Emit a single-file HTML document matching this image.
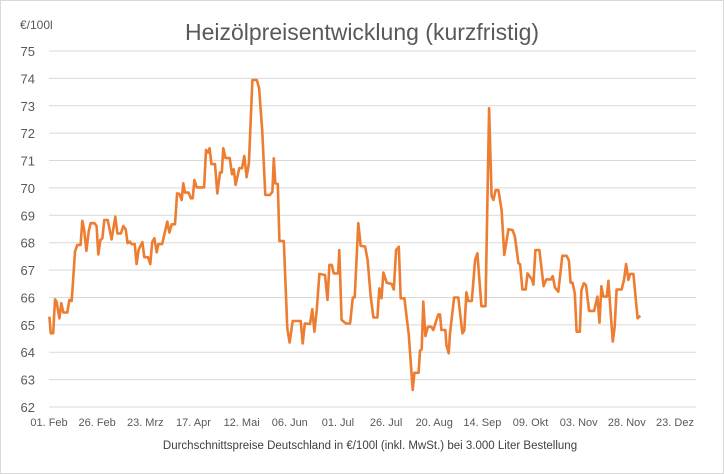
<!DOCTYPE html>
<html><head><meta charset="utf-8"><style>
html,body{margin:0;padding:0;background:#fff;}
svg{display:block;font-family:"Liberation Sans",sans-serif;}
</style></head><body>
<svg id="chart" width="724" height="474" viewBox="0 0 724 474" xmlns="http://www.w3.org/2000/svg">
<rect x="0.5" y="0.5" width="723" height="473" fill="#fff" stroke="#d9d9d9"/>
<text x="362" y="40" text-anchor="middle" font-size="23" fill="#595959">Heizölpreisentwicklung (kurzfristig)</text>
<text x="20" y="29" font-size="12" fill="#595959">€/100l</text>
<text x="370" y="449" text-anchor="middle" font-size="11.5" fill="#404040">Durchschnittspreise Deutschland in €/100l (inkl. MwSt.) bei 3.000 Liter Bestellung</text>
<g id="grid"></g><g id="yl"></g><g id="xl"></g><g id="series"></g>
</svg>
<script>
const yTicks=[62,63,64,65,66,67,68,69,70,71,72,73,74,75];
const xTickLabels=["01. Feb","26. Feb","23. Mrz","17. Apr","12. Mai","06. Jun","01. Jul","26. Jul","20. Aug","14. Sep","09. Okt","03. Nov","28. Nov","23. Dez"];
const xTickDays=[0,25,50,75,100,125,150,175,200,225,250,275,300,325];
const days=[0.2,0.9,2.2,3.1,3.9,5.4,6.4,7.4,9.5,10.6,11.8,13.5,14.7,16.4,17.3,18.3,19.4,20.6,21.6,23.7,24.7,25.6,26.7,27.7,28.7,30.5,32.5,34.4,35.5,37.4,38.6,39.8,40.8,42.0,42.9,44.5,45.5,46.5,48.5,49.5,51.4,52.6,53.6,54.7,55.9,56.8,58.7,61.4,62.5,63.7,65.4,66.5,67.7,68.9,69.7,70.6,72.5,73.6,74.6,75.5,76.7,80.5,81.5,82.6,83.4,84.3,86.2,87.4,88.8,89.7,90.5,91.6,93.8,95.0,95.9,96.9,98.8,100.2,101.4,102.6,103.8,105.6,107.9,109.1,110.7,112.3,114.7,116.0,116.7,117.5,118.8,119.6,121.9,123.7,124.9,126.5,130.7,131.7,132.8,135.5,136.7,137.8,139.0,140.4,143.3,144.6,145.6,146.8,147.8,150.1,150.7,151.9,154.2,156.3,157.7,158.7,160.6,161.8,164.1,165.4,167.0,168.4,170.5,171.5,172.6,173.6,175.3,177.9,179.0,180.2,181.6,182.6,184.5,186.8,188.8,189.7,191.9,192.6,193.5,194.3,195.4,196.7,198.5,199.5,202.1,203.0,203.7,205.8,206.3,207.5,208.2,210.3,212.5,214.6,215.6,216.7,217.7,219.5,221.2,222.4,224.5,226.6,228.5,229.8,230.7,231.9,233.3,235.0,236.4,238.5,240.7,241.9,243.7,244.6,245.8,247.5,248.4,250.7,251.5,252.5,254.6,256.8,258.2,260.6,261.5,262.7,264.4,266.5,268.7,269.9,270.8,271.8,273.0,273.9,275.6,276.4,277.7,278.8,280.4,283.0,284.7,285.8,286.8,287.8,289.6,290.4,291.6,292.7,293.7,294.7,297.3,298.5,299.6,300.8,301.7,303.4,305.6,307.0];
const prices=[65.30,64.69,64.69,65.93,65.85,65.24,65.79,65.45,65.45,65.91,65.87,67.67,67.92,67.92,68.80,68.46,67.70,68.40,68.71,68.71,68.61,67.57,68.10,68.16,68.83,68.83,68.12,68.95,68.34,68.34,68.61,68.49,67.98,68.04,67.95,67.95,67.22,67.74,68.02,67.47,67.47,67.22,68.02,68.16,67.65,67.95,67.95,68.77,68.37,68.67,68.67,69.80,69.78,69.56,70.17,69.83,69.83,69.62,69.62,70.29,70.02,70.02,71.39,71.29,71.45,70.87,70.87,69.80,70.56,70.56,71.45,71.09,71.09,70.50,70.68,70.11,70.72,70.72,71.17,70.39,70.90,73.94,73.94,73.64,72.12,69.74,69.74,69.86,71.08,70.17,70.14,68.06,68.06,64.87,64.35,65.14,65.14,64.32,65.05,65.03,65.57,64.75,65.52,66.86,66.82,65.91,67.19,67.19,66.88,66.88,67.73,65.18,65.05,65.05,66.00,66.00,68.71,67.88,67.86,67.37,66.03,65.27,65.27,66.33,65.97,66.91,66.54,66.49,66.29,67.73,67.85,65.97,65.97,64.63,62.62,63.25,63.25,64.06,64.11,65.85,64.59,64.93,64.93,64.81,65.38,65.38,64.81,64.81,64.26,63.96,64.69,66.00,66.00,64.69,64.79,66.19,65.87,65.87,67.37,67.61,65.68,65.68,72.91,69.70,69.56,69.92,69.92,69.19,67.55,68.49,68.46,68.22,67.25,67.21,66.29,66.29,66.88,66.66,66.47,67.73,67.73,66.41,66.66,66.66,66.78,66.36,66.21,67.52,67.52,67.35,66.54,66.54,66.15,64.75,64.75,66.27,66.52,66.45,65.51,65.51,66.03,65.08,66.41,66.03,66.03,66.61,65.42,64.39,64.93,66.29,66.29,66.64,67.22,66.64,66.86,66.86,65.24,65.33];
const NS="http://www.w3.org/2000/svg";
const X0=49,X1=675,D1=325,Y0=407,Y1=51,V0=62,V1=75;
const xs=d=>X0+(d/D1)*(X1-X0);
const ys=v=>Y0-(v-V0)/(V1-V0)*(Y0-Y1);
const grid=document.getElementById('grid'),yl=document.getElementById('yl'),xl=document.getElementById('xl'),ser=document.getElementById('series');
yTicks.forEach(v=>{
 const l=document.createElementNS(NS,'line');
 
 
 l.setAttribute('x1',X0);l.setAttribute('x2',696);l.setAttribute('y1',ys(v));l.setAttribute('y2',ys(v));
 l.setAttribute('stroke','#d9d9d9');l.setAttribute('stroke-width','1');
 grid.appendChild(l);
 const t=document.createElementNS(NS,'text');
 
 
 t.setAttribute('x',35);t.setAttribute('y',ys(v)+5);t.setAttribute('text-anchor','end');
 t.setAttribute('font-size','13');t.setAttribute('fill','#595959');t.textContent=v;
 yl.appendChild(t);
});
xTickLabels.forEach((s,i)=>{
 const t=document.createElementNS(NS,'text');
 
 
 t.setAttribute('x',xs(xTickDays[i]));t.setAttribute('y',426);t.setAttribute('text-anchor','middle');
 t.setAttribute('font-size','11');t.setAttribute('fill','#595959');t.textContent=s;
 xl.appendChild(t);
});
const p=document.createElementNS(NS,'polyline');


p.setAttribute('points',days.map((d,i)=>xs(d).toFixed(1)+','+ys(prices[i]).toFixed(1)).join(' '));
p.setAttribute('fill','none');p.setAttribute('stroke','#ED7D31');p.setAttribute('stroke-width','2.6');p.setAttribute('stroke-linejoin','round');
ser.appendChild(p);
</script>
</body></html>
